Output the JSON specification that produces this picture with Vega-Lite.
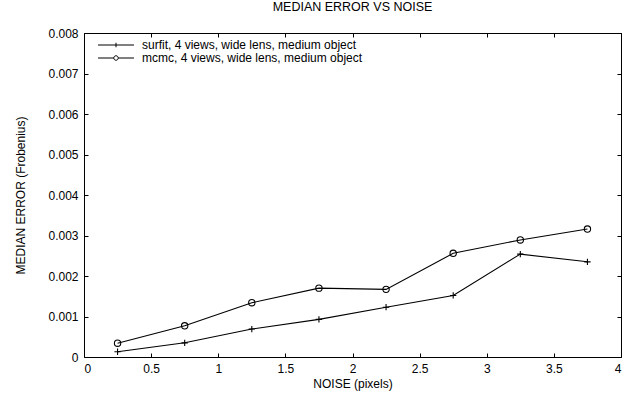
{
  "$schema": "https://vega.github.io/schema/vega-lite/v6.json",
  "width": 537,
  "height": 324,
  "autosize": "none",
  "padding": {"left": 84, "top": 33, "right": 11, "bottom": 39},
  "background": "white",
  "title": {"text": "MEDIAN ERROR VS  NOISE", "font": "Liberation Sans", "fontSize": 12.5, "fontWeight": "normal", "color": "black", "offset": 14},
  "config": {
    "view": {"stroke": "black", "strokeWidth": 1},
    "axis": {"labelFont": "Liberation Sans", "titleFont": "Liberation Sans", "labelFontSize": 12, "titleFontSize": 12, "titleFontWeight": "normal", "labelColor": "black", "titleColor": "black", "tickColor": "black", "grid": false, "domain": false, "tickSize": -4}
  },
  "data": {"values": [
    {"noise": 0.25, "error": 0.00013, "series": "surfit, 4 views, wide lens, medium object"},
    {"noise": 0.75, "error": 0.00035, "series": "surfit, 4 views, wide lens, medium object"},
    {"noise": 1.25, "error": 0.00069, "series": "surfit, 4 views, wide lens, medium object"},
    {"noise": 1.75, "error": 0.00093, "series": "surfit, 4 views, wide lens, medium object"},
    {"noise": 2.25, "error": 0.00123, "series": "surfit, 4 views, wide lens, medium object"},
    {"noise": 2.75, "error": 0.00152, "series": "surfit, 4 views, wide lens, medium object"},
    {"noise": 3.25, "error": 0.00254, "series": "surfit, 4 views, wide lens, medium object"},
    {"noise": 3.75, "error": 0.00235, "series": "surfit, 4 views, wide lens, medium object"},
    {"noise": 0.25, "error": 0.00034, "series": "mcmc, 4 views, wide lens, medium object"},
    {"noise": 0.75, "error": 0.00077, "series": "mcmc, 4 views, wide lens, medium object"},
    {"noise": 1.25, "error": 0.00134, "series": "mcmc, 4 views, wide lens, medium object"},
    {"noise": 1.75, "error": 0.00170, "series": "mcmc, 4 views, wide lens, medium object"},
    {"noise": 2.25, "error": 0.00167, "series": "mcmc, 4 views, wide lens, medium object"},
    {"noise": 2.75, "error": 0.00256, "series": "mcmc, 4 views, wide lens, medium object"},
    {"noise": 3.25, "error": 0.00289, "series": "mcmc, 4 views, wide lens, medium object"},
    {"noise": 3.75, "error": 0.00316, "series": "mcmc, 4 views, wide lens, medium object"}
  ]},
  "layer": [
    {
      "mark": {"type": "line", "color": "black", "strokeWidth": 1.1},
      "encoding": {
        "x": {"field": "noise", "type": "quantitative", "scale": {"domain": [0, 4], "nice": false}, "axis": {"orient": "bottom", "values": [0, 0.5, 1, 1.5, 2, 2.5, 3, 3.5, 4], "format": ".1~f", "title": "NOISE (pixels)", "labelPadding": 10, "titlePadding": 4}},
        "y": {"field": "error", "type": "quantitative", "scale": {"domain": [0, 0.008], "nice": false, "zero": true}, "axis": {"orient": "left", "values": [0, 0.001, 0.002, 0.003, 0.004, 0.005, 0.006, 0.007, 0.008], "labelExpr": "datum.value == 0 ? '0' : format(datum.value, '.3f')", "title": "MEDIAN ERROR (Frobenius)", "labelPadding": 10, "titlePadding": 20}},
        "detail": {"field": "series", "type": "nominal"}
      }
    },
    {
      "mark": {"type": "point", "color": "black", "filled": false, "size": 40, "strokeWidth": 1.1, "opacity": 1},
      "encoding": {
        "x": {"field": "noise", "type": "quantitative", "axis": null},
        "y": {"field": "error", "type": "quantitative", "axis": null},
        "shape": {"field": "series", "type": "nominal", "scale": {"domain": ["surfit, 4 views, wide lens, medium object", "mcmc, 4 views, wide lens, medium object"], "range": ["M-1,0H1M0,-1V1", "circle"]}, "legend": null}
      }
    },
    {
      "mark": {"type": "point", "color": "black", "filled": false, "size": 40, "opacity": 0},
      "encoding": {
        "x": {"field": "noise", "type": "quantitative", "axis": {"orient": "top", "values": [0, 0.5, 1, 1.5, 2, 2.5, 3, 3.5, 4], "labels": false, "title": null}},
        "y": {"field": "error", "type": "quantitative", "axis": {"orient": "right", "values": [0, 0.001, 0.002, 0.003, 0.004, 0.005, 0.006, 0.007, 0.008], "labels": false, "title": null}},
        "shape": {"field": "series", "type": "nominal", "scale": {"domain": ["surfit, 4 views, wide lens, medium object", "mcmc, 4 views, wide lens, medium object"], "range": ["M-3.6,0H3.6M0,-0.45V0.45", "M-3.6,0H-0.45M0.45,0H3.6M0.45,0A0.45,0.45 0 1 1 -0.45,0A0.45,0.45 0 1 1 0.45,0"]},
          "legend": {"title": null, "orient": "none", "legendX": 26, "legendY": 6, "symbolSize": 100, "symbolOpacity": 1, "symbolStrokeColor": "black", "symbolFillColor": "transparent", "symbolStrokeWidth": 1, "labelFont": "Liberation Sans", "labelFontSize": 12, "labelColor": "black", "labelOffset": 20, "rowPadding": 1, "padding": 0, "labelLimit": 400}
        }
      }
    }
  ],
  "resolve": {"scale": {"shape": "independent"}, "axis": {"x": "independent", "y": "independent"}}
}
